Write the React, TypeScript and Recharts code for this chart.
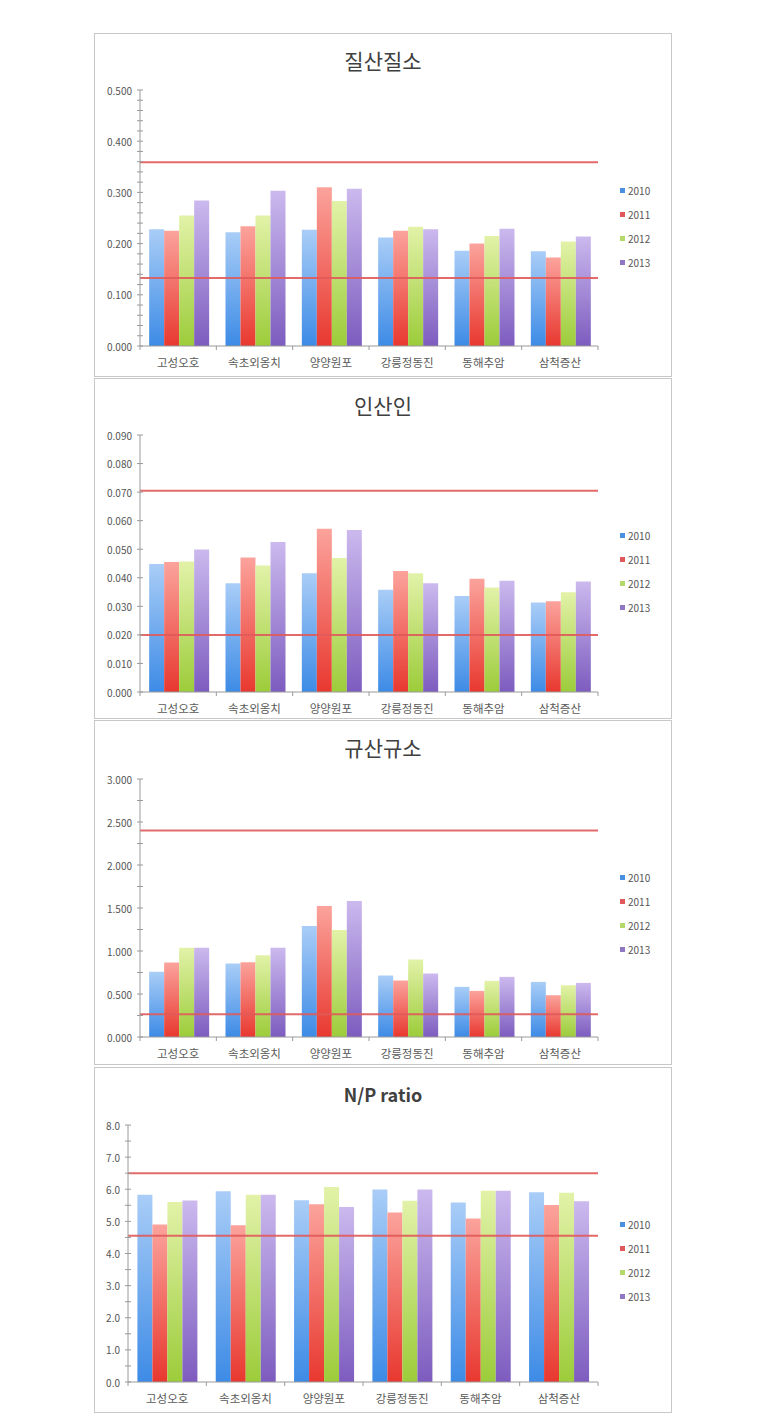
import React from "react"
import { BarChart, Bar, XAxis, YAxis, ReferenceLine } from "recharts"

const sites = ["고성오호", "속초외옹치", "양양원포", "강릉정동진", "동해추암", "삼척증산"]
const years = ["2010", "2011", "2012", "2013"]

// 질산질소
const nitrate2010 = [0.228, 0.222, 0.227, 0.212, 0.186, 0.185]
const nitrate2011 = [0.225, 0.234, 0.31, 0.225, 0.2, 0.173]
const nitrate2012 = [0.255, 0.255, 0.283, 0.233, 0.215, 0.204]
const nitrate2013 = [0.284, 0.303, 0.307, 0.228, 0.229, 0.214]
const nitrateLimits = [0.359, 0.133]
const nitrateTicks = [0, 0.1, 0.2, 0.3, 0.4, 0.5]

// 인산인
const phosphate2010 = [0.0448, 0.0381, 0.0416, 0.0358, 0.0336, 0.0313]
const phosphate2011 = [0.0455, 0.0471, 0.0572, 0.0424, 0.0397, 0.0318]
const phosphate2012 = [0.0457, 0.0443, 0.0469, 0.0416, 0.0366, 0.0349]
const phosphate2013 = [0.0499, 0.0525, 0.0567, 0.0381, 0.039, 0.0387]
const phosphateLimits = [0.0705, 0.02]
const phosphateTicks = [0, 0.01, 0.02, 0.03, 0.04, 0.05, 0.06, 0.07, 0.08, 0.09]

// 규산규소
const silicate2010 = [0.758, 0.855, 1.29, 0.715, 0.583, 0.641]
const silicate2011 = [0.866, 0.87, 1.523, 0.657, 0.536, 0.486]
const silicate2012 = [1.037, 0.952, 1.243, 0.901, 0.653, 0.602]
const silicate2013 = [1.037, 1.037, 1.581, 0.738, 0.699, 0.629]
const silicateLimits = [2.4, 0.265]
const silicateTicks = [0, 0.5, 1, 1.5, 2, 2.5, 3]

// N/P ratio
const np2010 = [5.83, 5.94, 5.66, 5.99, 5.59, 5.91]
const np2011 = [4.9, 4.88, 5.53, 5.28, 5.09, 5.51]
const np2012 = [5.6, 5.83, 6.07, 5.64, 5.95, 5.89]
const np2013 = [5.65, 5.83, 5.45, 5.99, 5.95, 5.63]
const npLimits = [6.5, 4.55]
const npTicks = [0, 1, 2, 3, 4, 5, 6, 7, 8]

const topColors = ["#a9cdf7", "#fba39c", "#e2f2a8", "#cbb9ee"]
const bottomColors = ["#3d8be6", "#e8382f", "#9ccc3a", "#7d5cbf"]
const legendColors = ["#4a8fe0", "#e0585a", "#b5d86a", "#8f77c4"]

const FONT = "'Noto Sans CJK KR', 'Noto Sans', sans-serif"
const PANEL_W = 578
const RIGHT = 74

function makeRows(series: number[][]) {
  return sites.map((site, i) => ({
    site,
    y2010: series[0][i],
    y2011: series[1][i],
    y2012: series[2][i],
    y2013: series[3][i],
  }))
}

function YTick(props: any) {
  const { x, y, payload, majors, decimals } = props
  const v = payload.value
  const isMajor = majors.some((m: number) => Math.abs(m - v) < 1e-9)
  const ax = x + 8
  return (
    <g>
      <line x1={ax - 3} x2={ax + 3} y1={y} y2={y} stroke="#9a9a9a" strokeWidth={1} />
      {isMajor && (
        <text x={x} y={y} textAnchor="end" dominantBaseline="central" fontSize={10} fill="#555" fontFamily={FONT}>
          {v.toFixed(decimals)}
        </text>
      )}
    </g>
  )
}

function XTick(props: any) {
  const { x, y, payload, index, band } = props
  const ay = y - 8
  return (
    <g>
      <line x1={x - band / 2} x2={x - band / 2} y1={ay} y2={ay + 4} stroke="#9a9a9a" />
      {index === sites.length - 1 && (
        <line x1={x + band / 2} x2={x + band / 2} y1={ay} y2={ay + 4} stroke="#9a9a9a" />
      )}
      <text x={x} y={y + 8} textAnchor="middle" dominantBaseline="central" fontSize={11.5} fill="#5a5a5a" fontFamily={FONT}>
        {payload.value}
      </text>
    </g>
  )
}

interface PanelProps {
  id: string
  title: string
  bold?: boolean
  top: number
  height: number
  series: number[][]
  majors: number[]
  minorStep: number
  decimals: number
  limits: number[]
  leftW: number
  plotTop: number
  xAxisH: number
}

function Panel({ id, title, bold, top, height, series, majors, minorStep, decimals, limits, leftW, plotTop, xAxisH }: PanelProps) {
  const data = makeRows(series)
  const max = majors[majors.length - 1]
  const ticks: number[] = []
  for (let k = 0; k * minorStep <= max + 1e-9; k++) ticks.push(Math.round(k * minorStep * 1e6) / 1e6)
  const band = (PANEL_W - leftW - RIGHT) / sites.length

  return (
    <div style={{ position: "absolute", left: 94, top, width: PANEL_W, height }}>
      <div
        style={{
          position: "absolute",
          inset: 0,
          border: "1.5px solid #c8c8c8",
          boxSizing: "border-box",
        }}
      />
      <div
        style={{
          position: "absolute",
          left: 0,
          width: PANEL_W,
          top: 27,
          transform: "translateY(-50%)",
          textAlign: "center",
          fontFamily: FONT,
          fontSize: bold ? 18 : 21,
          fontWeight: bold ? 700 : 400,
          color: "#404040",
          lineHeight: 1,
        }}
      >
        {title}
      </div>
      <div style={{ position: "absolute", left: 0, top: 0 }}>
        <BarChart
          width={PANEL_W}
          height={height}
          data={data}
          margin={{ top: plotTop, right: RIGHT, bottom: 0, left: 0 }}
          barGap={0}
          barCategoryGap="12%"
        >
          <defs>
            {years.map((yr, i) => (
              <linearGradient key={yr} id={`${id}-${yr}`} x1="0" y1="0" x2="0" y2="1">
                <stop offset="0%" stopColor={topColors[i]} />
                <stop offset="100%" stopColor={bottomColors[i]} />
              </linearGradient>
            ))}
          </defs>
          <XAxis
            dataKey="site"
            height={xAxisH}
            interval={0}
            tickLine={false}
            axisLine={{ stroke: "#9a9a9a" }}
            tick={(p: any) => <XTick {...p} band={band} />}
          />
          <YAxis
            width={leftW}
            domain={[0, max]}
            ticks={ticks}
            interval={0}
            tickLine={false}
            axisLine={{ stroke: "#9a9a9a" }}
            tick={(p: any) => <YTick {...p} majors={majors} decimals={decimals} />}
          />
          {years.map((yr) => (
            <Bar key={yr} dataKey={`y${yr}`} fill={`url(#${id}-${yr})`} isAnimationActive={false} />
          ))}
          {limits.map((v, i) => (
            <ReferenceLine key={i} y={v} stroke="#e05a5a" strokeWidth={2} strokeOpacity={0.9} />
          ))}
        </BarChart>
      </div>
      <div style={{ position: "absolute", left: 526, top: 157 - 12, fontFamily: FONT }}>
        {years.map((yr, i) => (
          <div key={yr} style={{ height: 24, display: "flex", alignItems: "center" }}>
            <span style={{ width: 5, height: 5, background: legendColors[i], marginRight: 3, display: "inline-block" }} />
            <span style={{ fontSize: 10, color: "#555" }}>{yr}</span>
          </div>
        ))}
      </div>
    </div>
  )
}

export default function App() {
  return (
    <div style={{ position: "absolute", left: 0, top: 0, width: 765, height: 1422, background: "#fff" }}>
      <Panel
        id="no3"
        title="질산질소"
        top={33}
        height={344}
        series={[nitrate2010, nitrate2011, nitrate2012, nitrate2013]}
        majors={nitrateTicks}
        minorStep={0.02}
        decimals={3}
        limits={nitrateLimits}
        leftW={46}
        plotTop={57}
        xAxisH={31}
      />
      <Panel
        id="po4"
        title="인산인"
        top={378}
        height={341}
        series={[phosphate2010, phosphate2011, phosphate2012, phosphate2013]}
        majors={phosphateTicks}
        minorStep={0.01}
        decimals={3}
        limits={phosphateLimits}
        leftW={46}
        plotTop={57}
        xAxisH={27}
      />
      <Panel
        id="sio2"
        title="규산규소"
        top={720}
        height={345}
        series={[silicate2010, silicate2011, silicate2012, silicate2013]}
        majors={silicateTicks}
        minorStep={0.25}
        decimals={3}
        limits={silicateLimits}
        leftW={46}
        plotTop={59}
        xAxisH={28}
      />
      <Panel
        id="np"
        title="N/P ratio"
        bold
        top={1067}
        height={346}
        series={[np2010, np2011, np2012, np2013]}
        majors={npTicks}
        minorStep={0.5}
        decimals={1}
        limits={npLimits}
        leftW={34}
        plotTop={58}
        xAxisH={31}
      />
    </div>
  )
}
